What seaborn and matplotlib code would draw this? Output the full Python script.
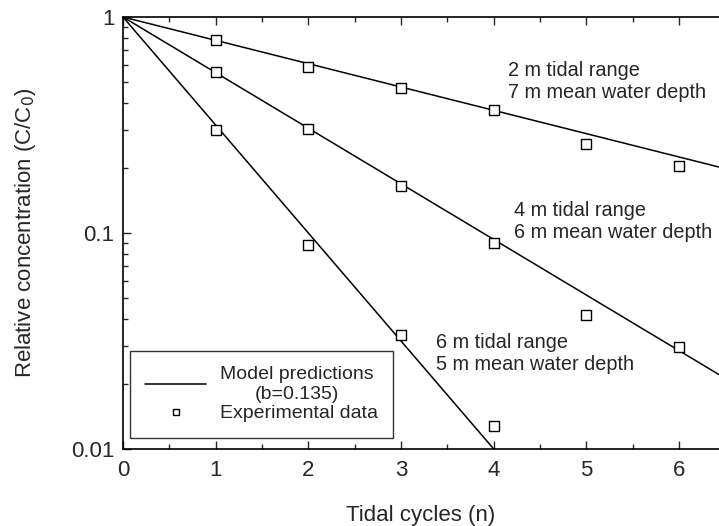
import numpy as np
import pandas as pd
import matplotlib
matplotlib.use("Agg")
import matplotlib.pyplot as plt
from matplotlib.lines import Line2D
import seaborn as sns

cycles = [1, 2, 3, 4, 5, 6]
conc_2m = [0.783, 0.587, 0.469, 0.371, 0.258, 0.204]
conc_4m = [0.556, 0.303, 0.165, 0.090, 0.0417, 0.0296]
conc_6m = [0.301, 0.088, 0.0337, 0.0128]

# model lines (straight on log axis): end points
line_x_2m = [0, 6.43]
line_y_2m = [1.0, 0.202]
line_x_4m = [0, 6.43]
line_y_4m = [1.0, 0.0221]
line_x_6m = [0, 4.0]
line_y_6m = [1.0, 0.01]

sns.set_style("ticks")
plt.rcParams['font.family'] = ['Liberation Sans', 'DejaVu Sans']

fig = plt.figure(figsize=(7.19, 5.26), dpi=100)
ax = fig.add_axes([0.171, 0.1464, 0.829, 0.8213])

for lx, ly in [(line_x_2m, line_y_2m), (line_x_4m, line_y_4m), (line_x_6m, line_y_6m)]:
    sns.lineplot(x=lx, y=ly, ax=ax, color="black", linewidth=1.1)

pts = pd.DataFrame({
    "n": cycles + cycles + cycles[:4],
    "c": conc_2m + conc_4m + conc_6m,
})
sns.scatterplot(data=pts, x="n", y="c", ax=ax, marker="s", s=42,
                facecolor="white", edgecolor="black", linewidth=1.0, zorder=5)

ax.set_yscale("log")
ax.set_xlim(0, 6.43)
ax.set_ylim(0.01, 1)
ax.set_xticks([0, 1, 2, 3, 4, 5, 6])
ax.set_xticks(np.arange(0.5, 6.5, 1), minor=True)
ax.set_yticks([0.01, 0.1, 1])
ax.set_yticklabels(["0.01", "0.1", "1"])
ax.tick_params(axis="both", which="both", direction="in", top=True, labelsize=16)
ax.tick_params(axis="both", which="major", length=6, width=1)
ax.tick_params(axis="both", which="minor", length=3.5, width=1)
ax.tick_params(axis="x", pad=8)
ax.tick_params(axis="y", pad=6)
for side in ["left", "bottom", "top"]:
    ax.spines[side].set_color("black")
    ax.spines[side].set_linewidth(1.2)
ax.spines["right"].set_visible(False)

ax.set_xlabel("Tidal cycles (n)", fontsize=16, labelpad=17)
ax.set_ylabel("Relative concentration (C/C$_0$)", fontsize=16, labelpad=24)

ax.text(4.15, 0.503, "2 m tidal range\n7 m mean water depth", fontsize=14.3,
        va="center", ha="left", linespacing=1.2)
ax.text(4.22, 0.113, "4 m tidal range\n6 m mean water depth", fontsize=14.3,
        va="center", ha="left", linespacing=1.2)
ax.text(3.38, 0.0276, "6 m tidal range\n5 m mean water depth", fontsize=14.3,
        va="center", ha="left", linespacing=1.2)

handles = [
    Line2D([], [], color="black", linewidth=1.1),
    Line2D([], [], color="black", marker="s", markersize=5, linestyle="none",
           markerfacecolor="white", markeredgewidth=1.0),
]
leg = ax.legend(handles, ["Model predictions\n(b=0.135)", "Experimental data"],
                loc="lower left", bbox_to_anchor=(0.0117, 0.0255), borderaxespad=0,
                fontsize=14, frameon=True, fancybox=False, edgecolor="black",
                handlelength=3.1, handletextpad=0.72, borderpad=0.8,
                labelspacing=0.1)
leg.get_frame().set_linewidth(1.0)
for t in leg.get_texts():
    t.set_multialignment("center")

fig.savefig("out.png", dpi=100)
